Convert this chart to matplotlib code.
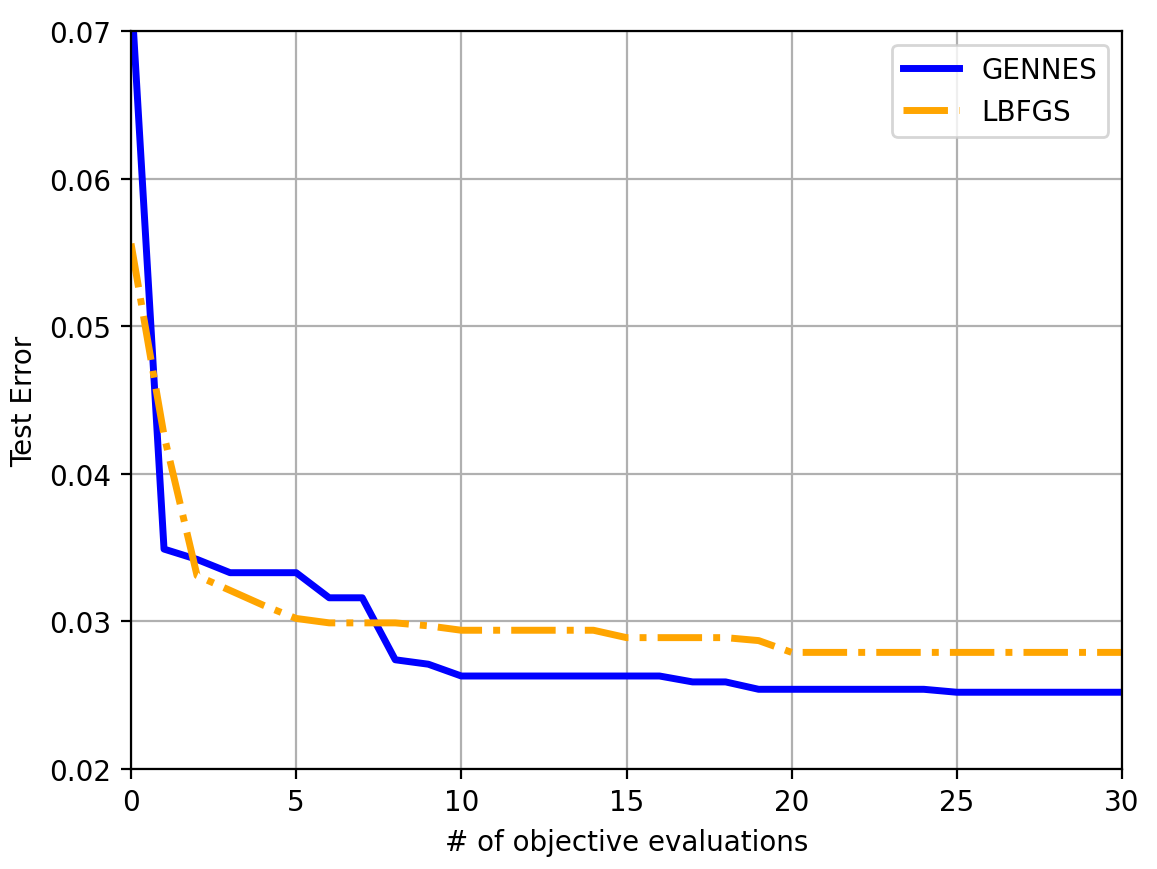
import numpy as np
import matplotlib
matplotlib.use('Agg')
import matplotlib.pyplot as plt

# objective evaluations 0..30
evals = list(range(31))

# test error per evaluation
gennes_err = [0.0729, 0.0349, 0.0342, 0.0333, 0.0333, 0.0333, 0.0316, 0.0316,
              0.0274, 0.0271, 0.0263, 0.0263, 0.0263, 0.0263, 0.0263, 0.0263,
              0.0263, 0.0259, 0.0259, 0.0254, 0.0254, 0.0254, 0.0254, 0.0254,
              0.0254, 0.0252, 0.0252, 0.0252, 0.0252, 0.0252, 0.0252]
lbfgs_err = [0.0556, 0.0426, 0.0331, 0.0321, 0.0311, 0.0302, 0.0299, 0.0299,
             0.0299, 0.0297, 0.0294, 0.0294, 0.0294, 0.0294, 0.0294, 0.0289,
             0.0289, 0.0289, 0.0289, 0.0287, 0.0279, 0.0279, 0.0279, 0.0279,
             0.0279, 0.0279, 0.0279, 0.0279, 0.0279, 0.0279, 0.0279]

fig, ax = plt.subplots(figsize=(1157 / 200, 870 / 200))
fig.subplots_adjust(left=131 / 1157, right=1122 / 1157, top=1 - 32 / 870, bottom=1 - 770 / 870)
ax.plot(evals, gennes_err, '-', color='blue', linewidth=2.5, label='GENNES')
ax.plot(evals, lbfgs_err, '-.', color='orange', linewidth=2.5, label='LBFGS')

ax.set_xlim(0, 30)
ax.set_ylim(0.02, 0.07)
ax.set_xlabel('# of objective evaluations')
ax.set_ylabel('Test Error')
ax.grid(True)
ax.legend(loc='upper right')

plt.savefig('out.png', dpi=200)
